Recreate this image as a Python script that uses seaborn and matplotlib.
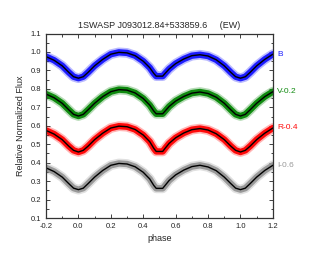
import numpy as np
import pandas as pd
import matplotlib
matplotlib.use("Agg")
import matplotlib.pyplot as plt
import seaborn as sns

# phase grid the curves were read at
phase = [-0.2, -0.15, -0.1, -0.06, -0.03, 0.0, 0.03, 0.06, 0.1, 0.15, 0.2, 0.25,
         0.3, 0.35, 0.4, 0.44, 0.465, 0.48, 0.52, 0.535, 0.56, 0.6, 0.65, 0.7, 0.75,
         0.8, 0.85, 0.9, 0.94, 0.97, 1.0, 1.03, 1.06, 1.1, 1.15, 1.2]

flux_B = [0.975, 0.955, 0.925, 0.89, 0.866, 0.858, 0.866, 0.89, 0.925, 0.96, 0.988, 0.998,
          0.995, 0.98, 0.95, 0.915, 0.884, 0.869, 0.869, 0.884, 0.908, 0.937, 0.962, 0.98, 0.985,
          0.978, 0.958, 0.925, 0.89, 0.866, 0.858, 0.866, 0.89, 0.925, 0.96, 0.988]
flux_V = [0.772, 0.752, 0.722, 0.687, 0.662, 0.653, 0.662, 0.687, 0.722, 0.758, 0.785, 0.796,
          0.793, 0.778, 0.748, 0.712, 0.68, 0.665, 0.665, 0.68, 0.705, 0.734, 0.759, 0.777, 0.783,
          0.775, 0.755, 0.722, 0.687, 0.662, 0.653, 0.662, 0.687, 0.722, 0.758, 0.785]
flux_R = [0.575, 0.555, 0.525, 0.49, 0.467, 0.458, 0.467, 0.49, 0.525, 0.56, 0.588, 0.598,
          0.595, 0.58, 0.55, 0.514, 0.478, 0.461, 0.461, 0.478, 0.505, 0.535, 0.561, 0.579, 0.585,
          0.577, 0.557, 0.525, 0.49, 0.467, 0.458, 0.467, 0.49, 0.525, 0.56, 0.588]
flux_I = [0.372, 0.352, 0.322, 0.287, 0.262, 0.254, 0.262, 0.287, 0.322, 0.358, 0.386, 0.396,
          0.393, 0.378, 0.348, 0.312, 0.277, 0.261, 0.261, 0.277, 0.304, 0.334, 0.36, 0.379, 0.386,
          0.377, 0.357, 0.322, 0.287, 0.262, 0.254, 0.262, 0.287, 0.322, 0.358, 0.386]

bands = ["B", "V-0.2", "R-0.4", "I-0.6"]
band_colors = ["#1c1cff", "#0f8a0f", "#ff0a0a", "#999999"]
label_y = [0.984, 0.784, 0.589, 0.386]

df = pd.DataFrame({
    "phase": phase * 4,
    "flux": flux_B + flux_V + flux_R + flux_I,
    "band": sum([[b] * len(phase) for b in bands], []),
})

sns.set_style("ticks")
plt.rcParams["font.family"] = ["Liberation Sans", "DejaVu Sans"]

fig = plt.figure(figsize=(3.16, 2.64), dpi=100)
ax = fig.add_axes([0.1456, 0.174, 0.718, 0.699])

for b, c in zip(bands, band_colors):
    sub = df[df["band"] == b]
    # scatter cloud drawn as a fuzzy wide band
    sns.lineplot(data=sub, x="phase", y="flux", color=c, lw=7, alpha=0.3, ax=ax, legend=False)
    sns.lineplot(data=sub, x="phase", y="flux", color=c, lw=4.6, alpha=1.0, ax=ax, legend=False)
    sns.lineplot(data=sub, x="phase", y="flux", color="black", lw=1.0, ax=ax, legend=False)

for b, c, y in zip(bands, band_colors, label_y):
    ax.text(1.225, y, b, color=c, fontsize=6, va="center", ha="left", clip_on=False)

ax.set_xlim(-0.2, 1.2)
ax.set_ylim(0.1, 1.1)
ax.set_xticks(np.arange(-0.2, 1.21, 0.2))
ax.set_xticks(np.arange(-0.2, 1.21, 0.1), minor=True)
ax.set_yticks(np.arange(0.1, 1.11, 0.1))
ax.set_yticks(np.arange(0.1, 1.11, 0.05), minor=True)
ax.xaxis.set_major_formatter(matplotlib.ticker.FormatStrFormatter("%.1f"))
ax.yaxis.set_major_formatter(matplotlib.ticker.FormatStrFormatter("%.1f"))
ax.tick_params(which="both", direction="in", top=True, right=True, labelsize=5.5,
               width=0.6, colors="#222222")
ax.tick_params(which="major", length=3)
ax.tick_params(which="minor", length=1.8)
for s in ax.spines.values():
    s.set_linewidth(0.9)
    s.set_color("#333333")

ax.set_xlabel("phase", fontsize=6.5, labelpad=3)
ax.set_ylabel("Relative Normalized Flux", fontsize=6.5, labelpad=4)
ax.set_title("1SWASP J093012.84+533859.6     (EW)", fontsize=6.5, pad=4)

fig.savefig("out.png", dpi=100)
